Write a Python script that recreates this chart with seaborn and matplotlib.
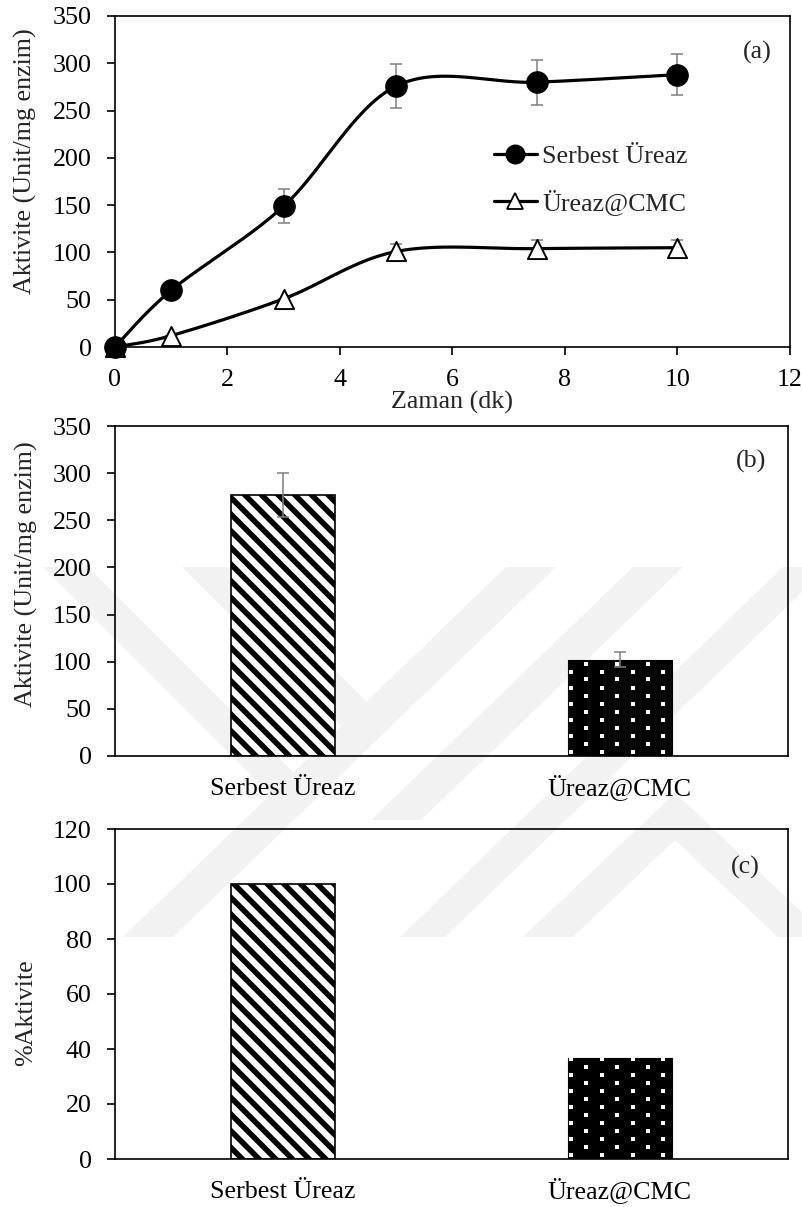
import numpy as np
import pandas as pd
import matplotlib
matplotlib.use("Agg")
import matplotlib.pyplot as plt
import seaborn as sns
from matplotlib.lines import Line2D
from matplotlib.patches import Polygon

# ---- time course of activity (a) ----
time_min = [0, 1, 3, 5, 7.5, 10]
free_activity = [0, 60, 149, 276, 280, 288]
free_err = [0, 0, 18, 23, 24, 22]
cmc_activity = [0, 12, 51, 101, 104, 105]
cmc_err = [0, 0, 0, 8, 9, 8]

# ---- activity comparison (b) and relative activity (c) ----
enzymes = ["Serbest Üreaz", "Üreaz@CMC"]
activity = [277, 102]
activity_err = [23, 8]
relative_activity = [100, 36.8]

sns.set_theme(style="ticks")
plt.rcParams["font.family"] = ["Liberation Serif", "DejaVu Serif"]
plt.rcParams["hatch.linewidth"] = 4.0
FS = 18.7
plt.rcParams["font.size"] = FS
plt.rcParams["axes.linewidth"] = 1.2
plt.rcParams["axes.edgecolor"] = "black"

ERR_COLOR = "#7f7f7f"


def smooth_curve(xs, ys, n=60):
    """Bezier smoothing through the points (spreadsheet style smoothed line)."""
    p = np.column_stack([xs, ys]).astype(float)
    ext = np.vstack([p[0], p, p[-1]])
    t = np.linspace(0, 1, n)[:, None]
    pieces = []
    for i in range(len(p) - 1):
        p0, p1, p2, p3 = ext[i], ext[i + 1], ext[i + 2], ext[i + 3]
        c1 = p1 + (p2 - p0) / 6.0
        c2 = p2 - (p3 - p1) / 6.0
        seg = ((1 - t) ** 3) * p1 + 3 * ((1 - t) ** 2) * t * c1 \
            + 3 * (1 - t) * t ** 2 * c2 + t ** 3 * p2
        pieces.append(seg if i == 0 else seg[1:])
    return np.vstack(pieces)


def style_axis(ax):
    for s in ax.spines.values():
        s.set_visible(True)
        s.set_color("black")
        s.set_linewidth(1.2)
    ax.set_facecolor("none")
    ax.tick_params(axis="y", direction="out", length=5.8, width=1.2,
                   pad=11, labelsize=FS, colors="black")


fig = plt.figure(figsize=(8.03, 12.07), dpi=100)
W, H = 803.0, 1207.0


def add_axes(l, t, r, b):
    return fig.add_axes([l / W, 1 - b / H, (r - l) / W, (b - t) / H])


# ---- faint background emblem (pixel outlines, top-left origin) ----
emblem = [
    [(123, 937), (173, 937), (556, 567), (506, 567)],
    [(43, 567), (88, 567), (306, 785), (283, 807)],
    [(182, 567), (232, 567), (379, 714), (354, 739)],
    [(633, 567), (683, 567), (421, 820), (371, 820)],
    [(400, 937), (445, 937), (828, 567), (783, 567)],
    [(523, 937), (675, 793), (803, 913), (803, 937), (778, 937),
     (675, 840), (573, 937)],
]
for shape in emblem:
    verts = [(x / W, 1 - y / H) for x, y in shape]
    fig.patches.append(Polygon(verts, closed=True, transform=fig.transFigure,
                               facecolor="#f2f2f2", edgecolor="none",
                               zorder=-10))

# ================= (a) =================
ax1 = add_axes(115, 16, 790, 347)
style_axis(ax1)

df_free = pd.DataFrame({"t": time_min, "a": free_activity})
df_cmc = pd.DataFrame({"t": time_min, "a": cmc_activity})

for xs, ys in ((time_min, free_activity), (time_min, cmc_activity)):
    c = smooth_curve(xs, ys)
    ax1.plot(c[:, 0], c[:, 1], color="black", lw=2.3, zorder=2,
             solid_capstyle="round", clip_on=False)

ax1.errorbar(time_min, free_activity, yerr=free_err, fmt="none",
             ecolor=ERR_COLOR, elinewidth=1.1, capsize=4, capthick=1.1, zorder=1)
ax1.errorbar(time_min, cmc_activity, yerr=cmc_err, fmt="none",
             ecolor=ERR_COLOR, elinewidth=1.1, capsize=4, capthick=1.1, zorder=1)

sns.scatterplot(data=df_cmc, x="t", y="a", ax=ax1, marker="^", s=190,
                facecolor="white", edgecolor="black", linewidth=1.4, zorder=4,
                clip_on=False)
sns.scatterplot(data=df_free, x="t", y="a", ax=ax1, marker="o", s=240,
                color="black", edgecolor="black", linewidth=0.8, zorder=5,
                clip_on=False)

ax1.set_xlim(0, 12)
ax1.set_ylim(0, 350)
ax1.set_xticks(np.arange(0, 13, 2))
ax1.set_yticks(np.arange(0, 351, 50))
ax1.tick_params(axis="x", direction="out", length=5.8, width=1.2, pad=22,
                labelsize=FS, colors="black")
for lab in ax1.get_xticklabels():
    lab.set_verticalalignment("baseline")
ax1.set_xlabel("Zaman (dk)", fontsize=FS, va="baseline")
ax1.xaxis.set_label_coords(0.5, -0.185)
ax1.set_ylabel("Aktivite (Unit/mg enzim)", fontsize=FS)
ax1.yaxis.set_label_coords(-0.115, 0.563)
ax1.text(0.951, 0.891, "(a)", transform=ax1.transAxes, ha="center",
         va="center", fontsize=FS)

handles = [
    Line2D([], [], color="black", lw=2.3, marker="o", markersize=13.4,
           markerfacecolor="black", markeredgecolor="black"),
    Line2D([], [], color="black", lw=2.3, marker="^", markersize=12,
           markerfacecolor="white", markeredgecolor="black", markeredgewidth=1.3),
]
ax1.legend(handles, enzymes, loc="upper left", bbox_to_anchor=(0.561, 0.612),
           frameon=False, borderpad=0, borderaxespad=0, handlelength=1.65,
           handletextpad=0.22, labelspacing=0.82, fontsize=FS)


# ================= bar panels =================
def bar_panel(ax, values, errors, ymax, ystep, label, tag, tagpos, ylabpos):
    style_axis(ax)
    df = pd.DataFrame({"enzim": enzymes, "deger": values})
    sns.barplot(data=df, x="enzim", y="deger", ax=ax, width=0.31,
                errorbar=None, color="white", saturation=1)
    ax.set_xlim(-0.5, 1.5)
    ax.set_ylim(0, ymax)
    ax.set_yticks(np.arange(0, ymax + 1, ystep))
    ax.tick_params(axis="x", length=0, pad=28, labelsize=FS, colors="black")
    for lab in ax.get_xticklabels():
        lab.set_verticalalignment("baseline")
    ax.set_xlabel("")
    ax.set_ylabel(label, fontsize=FS)
    ax.yaxis.set_label_coords(-0.115, ylabpos)
    ax.text(tagpos[0], tagpos[1], tag, transform=ax.transAxes, ha="center",
            va="center", fontsize=FS)

    striped, dotted = ax.patches[0], ax.patches[1]
    striped.set_facecolor("white")
    striped.set_edgecolor("black")
    striped.set_linewidth(1.2)
    striped.set_hatch("\\\\")
    striped.set_zorder(2)
    dotted.set_facecolor("black")
    dotted.set_edgecolor("black")
    dotted.set_linewidth(0.8)
    dotted.set_zorder(2)

    if errors is not None:
        ax.errorbar([0, 1], values, yerr=errors, fmt="none", ecolor=ERR_COLOR,
                    elinewidth=1.1, capsize=4.5, capthick=1.1, zorder=5)

    # white square dot pattern inside the dark bar (staggered rows)
    fig.canvas.draw()
    to_px = ax.transData
    x0, y0 = dotted.get_x(), dotted.get_y()
    x1, y1 = x0 + dotted.get_width(), y0 + dotted.get_height()
    (px0, py0), (px1, py1) = to_px.transform([(x0, y0), (x1, y1)])
    pts = []
    row = 0
    py = py0 + 4.5
    while py < py1:
        px = px0 + 3.5 + (15.4 if row % 2 else 0.0)
        while px < px1:
            pts.append((px, py))
            px += 30.8
        py += 8.0
        row += 1
    pts = to_px.inverted().transform(np.array(pts))
    sc = ax.scatter(pts[:, 0], pts[:, 1], marker="s", s=9, color="white",
                    linewidths=0, zorder=3)
    sc.set_clip_path(dotted)


ax2 = add_axes(115, 426, 788, 756)
bar_panel(ax2, activity, activity_err, 350, 50, "Aktivite (Unit/mg enzim)",
          "(b)", (0.945, 0.894), 0.552)

ax3 = add_axes(115, 829, 788, 1159)
bar_panel(ax3, relative_activity, None, 120, 20, "%Aktivite",
          "(c)", (0.936, 0.882), 0.445)

fig.savefig("out.png", dpi=100, facecolor="white")
